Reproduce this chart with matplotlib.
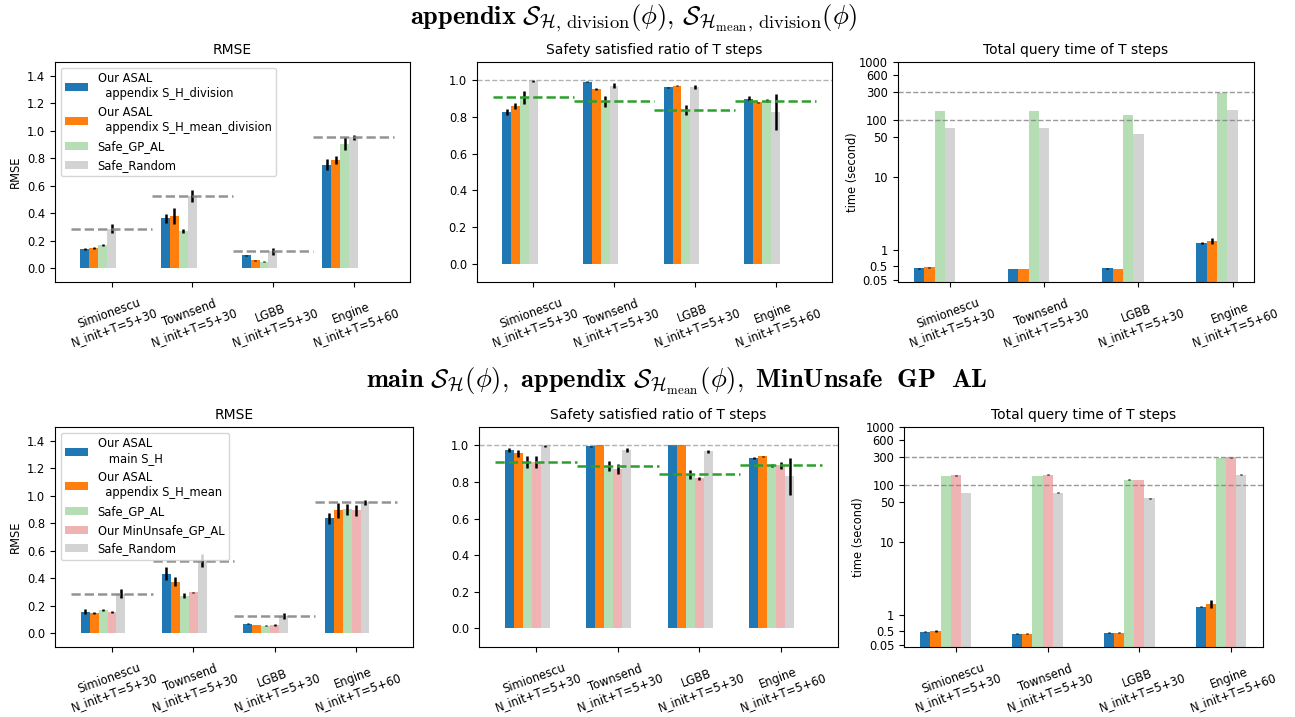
import matplotlib
matplotlib.use("Agg")
import matplotlib.pyplot as plt
import numpy as np
from matplotlib.ticker import NullLocator

plt.rcParams['font.size'] = 8.3
plt.rcParams['mathtext.fontset'] = 'cm'

tasks = ["Simionescu\nN_init+T=5+30", "Townsend\nN_init+T=5+30",
         "LGBB\nN_init+T=5+30", "Engine\nN_init+T=5+60"]

# ---- top row: appendix S_H,division / S_H_mean,division
top_labels = ["Our ASAL\n  appendix S_H_division",
              "Our ASAL\n  appendix S_H_mean_division",
              "Safe_GP_AL", "Safe_Random"]
top_colors = ["#1f77b4", "#ff7f0e", "#b5deb5", "lightgray"]

top_rmse = [[0.139, 0.363, 0.095, 0.752],
            [0.148, 0.380, 0.058, 0.786],
            [0.168, 0.270, 0.049, 0.906],
            [0.287, 0.525, 0.122, 0.952]]
top_rmse_err = [[0.008, 0.032, 0.004, 0.041],
                [0.006, 0.056, 0.003, 0.027],
                [0.008, 0.015, 0.004, 0.045],
                [0.034, 0.045, 0.024, 0.020]]

top_safe = [[0.828, 0.993, 0.962, 0.900],
            [0.861, 0.954, 0.971, 0.880],
            [0.907, 0.885, 0.839, 0.890],
            [0.995, 0.971, 0.965, 0.828]]
top_safe_err = [[0.016, 0.004, 0.004, 0.015],
                [0.016, 0.004, 0.004, 0.002],
                [0.034, 0.028, 0.027, 0.008],
                [0.005, 0.012, 0.010, 0.100]]

top_time = [[0.43, 0.40, 0.43, 1.22],
            [0.46, 0.40, 0.40, 1.28],
            [141.6, 141.0, 120.5, 287.0],
            [71.7, 72.5, 56.4, 147.0]]
top_time_err = [[0.01, 0.01, 0.01, 0.03],
                [0.01, 0.01, 0.01, 0.08],
                [0.5, 0.5, 2.0, 2.0],
                [0.5, 0.8, 0.5, 2.0]]

# ---- bottom row: main S_H, appendix S_H_mean, MinUnsafe GP AL
bot_labels = ["Our ASAL\n   main S_H",
              "Our ASAL\n  appendix S_H_mean",
              "Safe_GP_AL", "Our MinUnsafe_GP_AL", "Safe_Random"]
bot_colors = ["#1f77b4", "#ff7f0e", "#b5deb5", "#efb3b3", "lightgray"]

bot_rmse = [[0.156, 0.433, 0.068, 0.835],
            [0.146, 0.375, 0.058, 0.894],
            [0.170, 0.273, 0.053, 0.900],
            [0.156, 0.295, 0.058, 0.894],
            [0.287, 0.528, 0.122, 0.952]]
bot_rmse_err = [[0.020, 0.047, 0.004, 0.040],
                [0.010, 0.034, 0.003, 0.055],
                [0.007, 0.015, 0.004, 0.041],
                [0.007, 0.007, 0.005, 0.040],
                [0.035, 0.048, 0.022, 0.020]]

bot_safe = [[0.973, 0.995, 1.000, 0.932],
            [0.956, 1.000, 1.000, 0.940],
            [0.910, 0.887, 0.841, 0.890],
            [0.910, 0.869, 0.819, 0.890],
            [0.996, 0.973, 0.967, 0.830]]
bot_safe_err = [[0.010, 0.004, 0.000, 0.004],
                [0.017, 0.000, 0.000, 0.003],
                [0.031, 0.029, 0.024, 0.007],
                [0.033, 0.028, 0.010, 0.020],
                [0.004, 0.010, 0.008, 0.100]]

bot_time = [[0.475, 0.41, 0.44, 1.25],
            [0.486, 0.41, 0.44, 1.34],
            [143.6, 143.6, 122.0, 292.0],
            [145.0, 149.5, 122.0, 300.0],
            [72.5, 72.5, 57.8, 150.0]]
bot_time_err = [[0.01, 0.01, 0.01, 0.02],
                [0.04, 0.01, 0.02, 0.12],
                [0.5, 0.5, 2.0, 2.0],
                [1.0, 1.0, 1.0, 8.0],
                [0.5, 1.0, 0.5, 3.0]]

time_ticks = [0.05, 0.5, 1, 10, 50, 100, 300, 600, 1000]

W = 0.11
x = np.arange(len(tasks))


def draw_bars(ax, vals, errs, labels, colors):
    for i, (v, e) in enumerate(zip(vals, errs)):
        ax.bar(x + (i - 3) * W, v, W, yerr=e, color=colors[i],
               label=labels[i],
               error_kw=dict(ecolor="black", elinewidth=1.8, capsize=0))


def setup_x(ax):
    ax.set_xticks(x)
    ax.set_xticklabels(tasks, rotation=20, ha="center")


def rmse_panel(ax, vals, errs, labels, colors):
    draw_bars(ax, vals, errs, labels, colors)
    ax.hlines(vals[-1], x - 0.5, x + 0.5, colors="gray", linestyles="--",
              lw=1.8, alpha=0.85)
    ax.set_ylim(-0.1, 1.5)
    ax.set_yticks(np.arange(0, 1.41, 0.2))
    ax.set_ylabel("RMSE")
    ax.set_title("RMSE", fontsize=10)
    ax.legend(loc="upper left")
    setup_x(ax)


def safe_panel(ax, vals, errs, labels, colors):
    draw_bars(ax, vals, errs, labels, colors)
    ax.hlines(vals[2], x - 0.5, x + 0.5, colors="tab:green",
              linestyles="--", lw=1.8)
    ax.axhline(1.0, color="gray", ls="--", lw=1, alpha=0.6)
    ax.set_ylim(-0.1, 1.1)
    ax.set_yticks(np.arange(0, 1.01, 0.2))
    ax.set_title("Safety satisfied ratio of T steps", fontsize=10)
    setup_x(ax)


def time_panel(ax, vals, errs, labels, colors):
    ax.set_yscale("symlog", linthresh=2)
    draw_bars(ax, vals, errs, labels, colors)
    ax.axhline(300, color="gray", ls="--", lw=1, alpha=0.8)
    ax.axhline(100, color="gray", ls="--", lw=1, alpha=0.8)
    ax.set_ylim(0, 1000)
    ax.set_yticks(time_ticks)
    ax.set_yticklabels([str(t) for t in time_ticks])
    ax.yaxis.set_minor_locator(NullLocator())
    ax.set_ylabel("time (second)", labelpad=0)
    ax.set_title("Total query time of T steps", fontsize=10)
    setup_x(ax)


fig = plt.figure(figsize=(12.95, 7.17), dpi=100)

ax1 = fig.add_axes([0.0425, 0.6067, 0.2741, 0.3068])
ax2 = fig.add_axes([0.3681, 0.6067, 0.2744, 0.3068])
ax3 = fig.add_axes([0.6932, 0.6067, 0.2751, 0.3068])
ax4 = fig.add_axes([0.0425, 0.0980, 0.2764, 0.3064])
ax5 = fig.add_axes([0.3699, 0.0980, 0.2772, 0.3064])
ax6 = fig.add_axes([0.6981, 0.0980, 0.2770, 0.3064])

rmse_panel(ax1, top_rmse, top_rmse_err, top_labels, top_colors)
safe_panel(ax2, top_safe, top_safe_err, top_labels, top_colors)
time_panel(ax3, top_time, top_time_err, top_labels, top_colors)
rmse_panel(ax4, bot_rmse, bot_rmse_err, bot_labels, bot_colors)
safe_panel(ax5, bot_safe, bot_safe_err, bot_labels, bot_colors)
time_panel(ax6, bot_time, bot_time_err, bot_labels, bot_colors)

fig.text(634 / 1295, 1 - 18 / 717,
         r"$\mathbf{appendix}\ \mathcal{S}_{\mathcal{H},\,\mathrm{division}}(\phi),"
         r"\,\mathcal{S}_{\mathcal{H}_{\mathrm{mean}},\,\mathrm{division}}(\phi)$",
         ha="center", va="center", fontsize=19)
fig.text(677 / 1295, 1 - 381 / 717,
         r"$\mathbf{main}\ \mathcal{S}_{\mathcal{H}}(\phi),\ \mathbf{appendix}\ "
         r"\mathcal{S}_{\mathcal{H}_{\mathrm{mean}}}(\phi),\ \mathbf{MinUnsafe\ \ GP\ \ AL}$",
         ha="center", va="center", fontsize=19)

fig.savefig("out.png", dpi=100)
